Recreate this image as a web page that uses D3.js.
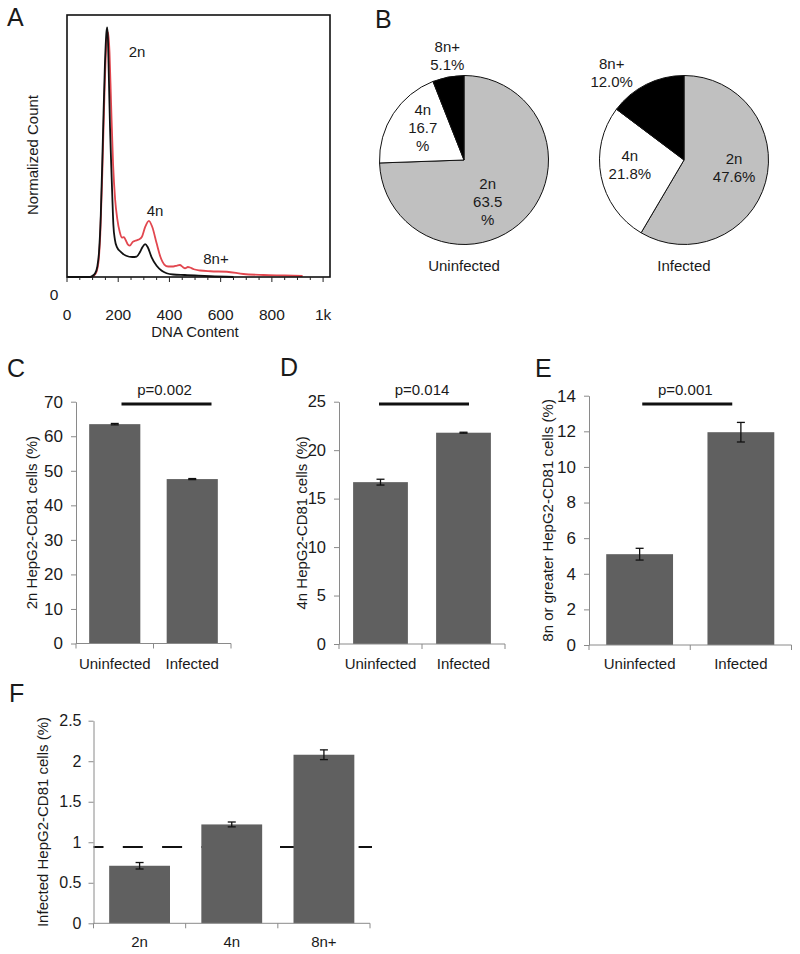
<!DOCTYPE html>
<html><head><meta charset="utf-8">
<script src="https://cdn.jsdelivr.net/npm/d3@7"></script>
<style>
body{margin:0;background:#fff}
text{font-family:"Liberation Sans",Arial,Helvetica,sans-serif;fill:#1a1a1a}
</style>
</head><body>
<svg id="chart" width="800" height="954"></svg>
<script>
// ---------------- DATA ----------------
// Panel A: DNA content histograms (normalized count)
const histDnaUninf   = [0, 90, 100, 110, 118, 125, 132, 140, 148, 154, 157, 160, 163, 168, 172, 177, 181, 187, 195, 211, 231, 255, 272, 285, 295, 305, 315, 330, 350, 370, 389, 415, 460, 500, 560, 650];
const histCountUninf = [0, 0, 0.005, 0.015, 0.04, 0.1, 0.25, 0.55, 0.85, 0.98, 1.0, 0.95, 0.82, 0.6, 0.47, 0.32, 0.21, 0.15, 0.12, 0.1, 0.085, 0.08, 0.082, 0.1, 0.12, 0.132, 0.12, 0.08, 0.045, 0.025, 0.015, 0.01, 0.008, 0.006, 0.003, 0];
const histDnaInf     = [0, 95, 105, 115, 123, 130, 138, 146, 153, 158, 161, 166, 172, 180, 188, 196, 206, 214, 222, 229, 238, 246, 256, 266, 280, 292, 305, 320, 333, 350, 365, 380, 395, 415, 430, 441, 452, 461, 472, 480, 495, 520, 560, 624, 689, 767, 850, 920];
const histCountInf   = [0, 0, 0.005, 0.02, 0.06, 0.17, 0.42, 0.72, 0.92, 0.975, 0.98, 0.9, 0.7, 0.45, 0.31, 0.235, 0.18, 0.158, 0.16, 0.148, 0.13, 0.126, 0.14, 0.145, 0.15, 0.16, 0.2, 0.225, 0.2, 0.135, 0.08, 0.05, 0.042, 0.042, 0.046, 0.048, 0.04, 0.035, 0.04, 0.038, 0.031, 0.026, 0.023, 0.021, 0.012, 0.008, 0.006, 0.004];
const histTicks      = [0, 200, 400, 600, 800, 1000];
const histTickLabels = ["0", "200", "400", "600", "800", "1k"];
const histPeakLabels = ["2n", "4n", "8n+"];

// Panel B: pies
const pieCategories  = ["2n", "4n", "8n+"];
const pieUninfected  = [63.5, 16.7, 5.1];
const pieInfected    = [47.6, 21.8, 12.0];
const pieUninfLabels = [["2n", "63.5", "%"], ["4n", "16.7", "%"], ["8n+", "5.1%"]];
const pieInfLabels   = [["2n", "47.6%"], ["4n", "21.8%"], ["8n+", "12.0%"]];
const pieTitles      = ["Uninfected", "Infected"];

// Panels C-E
const barCategories = ["Uninfected", "Infected"];
const c2nValues = [63.5, 47.6];   const c2nErrors = [0.2, 0.15];
const d4nValues = [16.7, 21.8];   const d4nErrors = [0.3, 0.05];
const e8nValues = [5.1, 11.95];   const e8nErrors = [0.33, 0.55];
const cTicks = [0, 10, 20, 30, 40, 50, 60, 70];
const dTicks = [0, 5, 10, 15, 20, 25];
const eTicks = [0, 2, 4, 6, 8, 10, 12, 14];
const pLabels = ["p=0.002", "p=0.014", "p=0.001"];

// Panel F
const fCategories = ["2n", "4n", "8n+"];
const fValues = [0.71, 1.22, 2.08];
const fErrors = [0.04, 0.03, 0.06];
const fTicks  = [0, 0.5, 1, 1.5, 2, 2.5];
const fReference = 0.94;

// ---------------- DRAW ----------------
const svg = d3.select("#chart");
const FS = 15;
const axisGray = "#8a8a8a";
const barFill = "#606060";

function panelLetter(t, x, y) {
  svg.append("text").attr("x", x).attr("y", y).attr("font-size", 25).text(t);
}
panelLetter("A", 7, 26); panelLetter("B", 375, 28);
panelLetter("C", 7, 377); panelLetter("D", 280, 376);
panelLetter("E", 535, 377); panelLetter("F", 9, 702);

// ----- Panel A -----
(function () {
  const L = 67, R = 330, T = 15, B = 277;
  const x = d3.scaleLinear().domain([0, 1027]).range([L, R]);
  const y = d3.scaleLinear().domain([0, 1]).range([B, 27.3]);
  const g = svg.append("g");
  const line = d3.line().x(d => x(d[0])).y(d => y(d[1])).curve(d3.curveMonotoneX);
  g.append("path").datum(histDnaInf.map((v, i) => [v, histCountInf[i]]))
    .attr("d", line).attr("fill", "none").attr("stroke", "#e2474f").attr("stroke-width", 1.8);
  g.append("path").datum(histDnaUninf.map((v, i) => [v, histCountUninf[i]]))
    .attr("d", line).attr("fill", "none").attr("stroke", "#111").attr("stroke-width", 1.8);
  g.append("rect").attr("x", L).attr("y", T).attr("width", R - L).attr("height", B - T)
    .attr("fill", "none").attr("stroke", "#111").attr("stroke-width", 1.6);
  const minor = d3.range(0, 1001, 50);
  g.selectAll(".mt").data(minor).join("line")
    .attr("x1", d => x(d)).attr("x2", d => x(d))
    .attr("y1", B).attr("y2", d => B + (histTicks.includes(d) ? 5 : 3))
    .attr("stroke", "#222").attr("stroke-width", 1);
  g.selectAll(".tl").data(histTicks).join("text")
    .attr("x", d => x(d)).attr("y", 315).attr("dy", "0.35em")
    .attr("text-anchor", "middle").attr("font-size", 15.5)
    .text((d, i) => histTickLabels[i]);
  g.append("text").attr("x", 54).attr("y", 295).attr("dy", "0.35em").attr("text-anchor", "middle")
    .attr("font-size", 15.5).text("0");
  g.append("text").attr("x", 195).attr("y", 332).attr("dy", "0.35em").attr("text-anchor", "middle")
    .attr("font-size", FS).text("DNA Content");
  g.append("text").attr("transform", "translate(33,155) rotate(-90)").attr("dy", "0.35em")
    .attr("text-anchor", "middle").attr("font-size", FS).text("Normalized Count");
  const peakPos = [[137, 52], [155, 211], [216, 259]];
  g.selectAll(".pk").data(histPeakLabels).join("text")
    .attr("x", (d, i) => peakPos[i][0]).attr("y", (d, i) => peakPos[i][1]).attr("dy", "0.35em")
    .attr("text-anchor", "middle").attr("font-size", FS).text(d => d);
})();

// ----- Panel B -----
function drawPie(values, labels, cx, cy, title, labelPolar) {
  const r = 84.5;
  const colors = { "2n": "#c0c0c0", "4n": "#ffffff", "8n+": "#000000" };
  const pie = d3.pie().sort(null).value(d => d);
  const arcs = pie(values);
  const arc = d3.arc().innerRadius(0).outerRadius(r);
  const g = svg.append("g").attr("transform", `translate(${cx},${cy})`);
  g.selectAll("path").data(arcs).join("path").attr("d", arc)
    .attr("fill", (d, i) => colors[pieCategories[i]])
    .attr("stroke", "#111").attr("stroke-width", 1);
  labels.forEach((lines, i) => {
    const a = labelPolar[i][0] * Math.PI / 180, dist = labelPolar[i][1];
    const lx = dist * Math.sin(a), ly = -dist * Math.cos(a);
    lines.forEach((t, j) => {
      g.append("text").attr("x", lx).attr("y", ly + (j - (lines.length - 1) / 2) * 18)
        .attr("dy", "0.35em").attr("text-anchor", "middle").attr("font-size", FS).text(t);
    });
  });
  g.append("text").attr("x", 0).attr("y", 106).attr("dy", "0.35em").attr("text-anchor", "middle")
    .attr("font-size", FS).text(title);
}
drawPie(pieUninfected, pieUninfLabels, 464, 160, pieTitles[0], [[150.6, 48.2], [307.8, 52.2], [350.9, 105.8]]);
drawPie(pieInfected, pieInfLabels, 684, 160, pieTitles[1], [[99, 50.7], [264.7, 54.4], [320.2, 113]]);

// ----- Bar panels -----
function barPanel(o) {
  const x = d3.scaleBand().domain(o.cats).range([o.x0, o.x1]).paddingInner(0.34).paddingOuter(0.17);
  const y = d3.scaleLinear().domain([0, o.max]).range([o.y0, o.y1]);
  const g = svg.append("g");
  if (o.ref !== undefined) {
    g.append("line").attr("x1", o.x0).attr("x2", o.x1 + 2)
      .attr("y1", y(o.ref)).attr("y2", y(o.ref))
      .attr("stroke", "#111").attr("stroke-width", 2)
      .attr("stroke-dasharray", "20,19.3").attr("stroke-dashoffset", 10);
  }
  g.selectAll(".bar").data(o.values).join("rect")
    .attr("x", (d, i) => x(o.cats[i])).attr("width", x.bandwidth())
    .attr("y", d => y(d)).attr("height", d => y(0) - y(d)).attr("fill", barFill);
  const cap = 4;
  o.values.forEach((v, i) => {
    const cx = x(o.cats[i]) + x.bandwidth() / 2;
    const e = o.errors[i];
    const eg = g.append("g").attr("stroke", "#111").attr("stroke-width", 1.3);
    eg.append("line").attr("x1", cx).attr("x2", cx).attr("y1", y(v + e)).attr("y2", y(v - e));
    eg.append("line").attr("x1", cx - cap).attr("x2", cx + cap).attr("y1", y(v + e)).attr("y2", y(v + e));
    eg.append("line").attr("x1", cx - cap).attr("x2", cx + cap).attr("y1", y(v - e)).attr("y2", y(v - e));
  });
  const ya = g.append("g").attr("transform", `translate(${o.x0},0)`)
    .call(d3.axisLeft(y).tickValues(o.ticks).tickSize(5).tickSizeOuter(0).tickPadding(o.pad || 8).tickFormat(d3.format("~g")));
  ya.attr("font-family", null).attr("font-size", null);
  ya.select(".domain").attr("stroke", axisGray);
  ya.selectAll(".tick line").attr("stroke", axisGray);
  ya.selectAll(".tick text").attr("font-size", o.tickFs).attr("fill", "#1a1a1a");
  g.append("line").attr("x1", o.x0).attr("x2", o.x1).attr("y1", o.y0).attr("y2", o.y0)
    .attr("stroke", axisGray).attr("stroke-width", 1);
  const bounds = o.cats.map(c => x(c) - x.step() * 0.17).concat([o.x1]);
  g.selectAll(".xt").data(bounds).join("line")
    .attr("x1", d => d).attr("x2", d => d).attr("y1", o.y0).attr("y2", o.y0 + 5)
    .attr("stroke", axisGray).attr("stroke-width", 1);
  g.selectAll(".xl").data(o.cats).join("text")
    .attr("x", d => x(d) + x.bandwidth() / 2).attr("y", o.y0 + o.xLabDy).attr("dy", "0.35em")
    .attr("text-anchor", "middle").attr("font-size", FS).text(d => d);
  g.append("text").attr("transform", `translate(${o.ylabX},${(o.y0 + o.y1) / 2}) rotate(-90)`)
    .attr("dy", "0.35em").attr("text-anchor", "middle").attr("font-size", FS).text(o.ylab);
  if (o.p) {
    const mid = o.x0 + (o.x1 - o.x0) / 2 + o.pShift;
    g.append("line").attr("x1", mid - 45).attr("x2", mid + 45).attr("y1", 404).attr("y2", 404)
      .attr("stroke", "#111").attr("stroke-width", 3);
    g.append("text").attr("x", mid - 2).attr("y", 390).attr("dy", "0.35em").attr("text-anchor", "middle")
      .attr("font-size", FS).text(o.p);
  }
}

barPanel({ cats: barCategories, values: c2nValues, errors: c2nErrors, max: 70, ticks: cTicks, tickFs: 17,
  x0: 76, x1: 231, y0: 643.5, y1: 401.7, xLabDy: 20, ylabX: 32, ylab: "2n HepG2-CD81 cells (%)",
  p: pLabels[0], pShift: 13 });
barPanel({ cats: barCategories, values: d4nValues, errors: d4nErrors, max: 25, ticks: dTicks, tickFs: 16.5,
  x0: 339, x1: 505, y0: 644, y1: 401.7, xLabDy: 20, ylabX: 302, ylab: "4n HepG2-CD81 cells (%)",
  p: pLabels[1], pShift: 2 });
barPanel({ cats: barCategories, values: e8nValues, errors: e8nErrors, max: 14, ticks: eTicks, tickFs: 17,
  x0: 589, x1: 791.5, y0: 645, y1: 395.7, xLabDy: 19, ylabX: 548, ylab: "8n or greater HepG2-CD81 cells (%)",
  p: pLabels[2], pShift: -3 });
barPanel({ cats: fCategories, values: fValues, errors: fErrors, max: 2.5, ticks: fTicks, tickFs: 16,
  x0: 93.5, x1: 370, y0: 923.3, y1: 720.7, xLabDy: 18, ylabX: 43, ylab: "Infected HepG2-CD81 cells (%)",
  ref: fReference, pad: 7 });
</script>
</body></html>
